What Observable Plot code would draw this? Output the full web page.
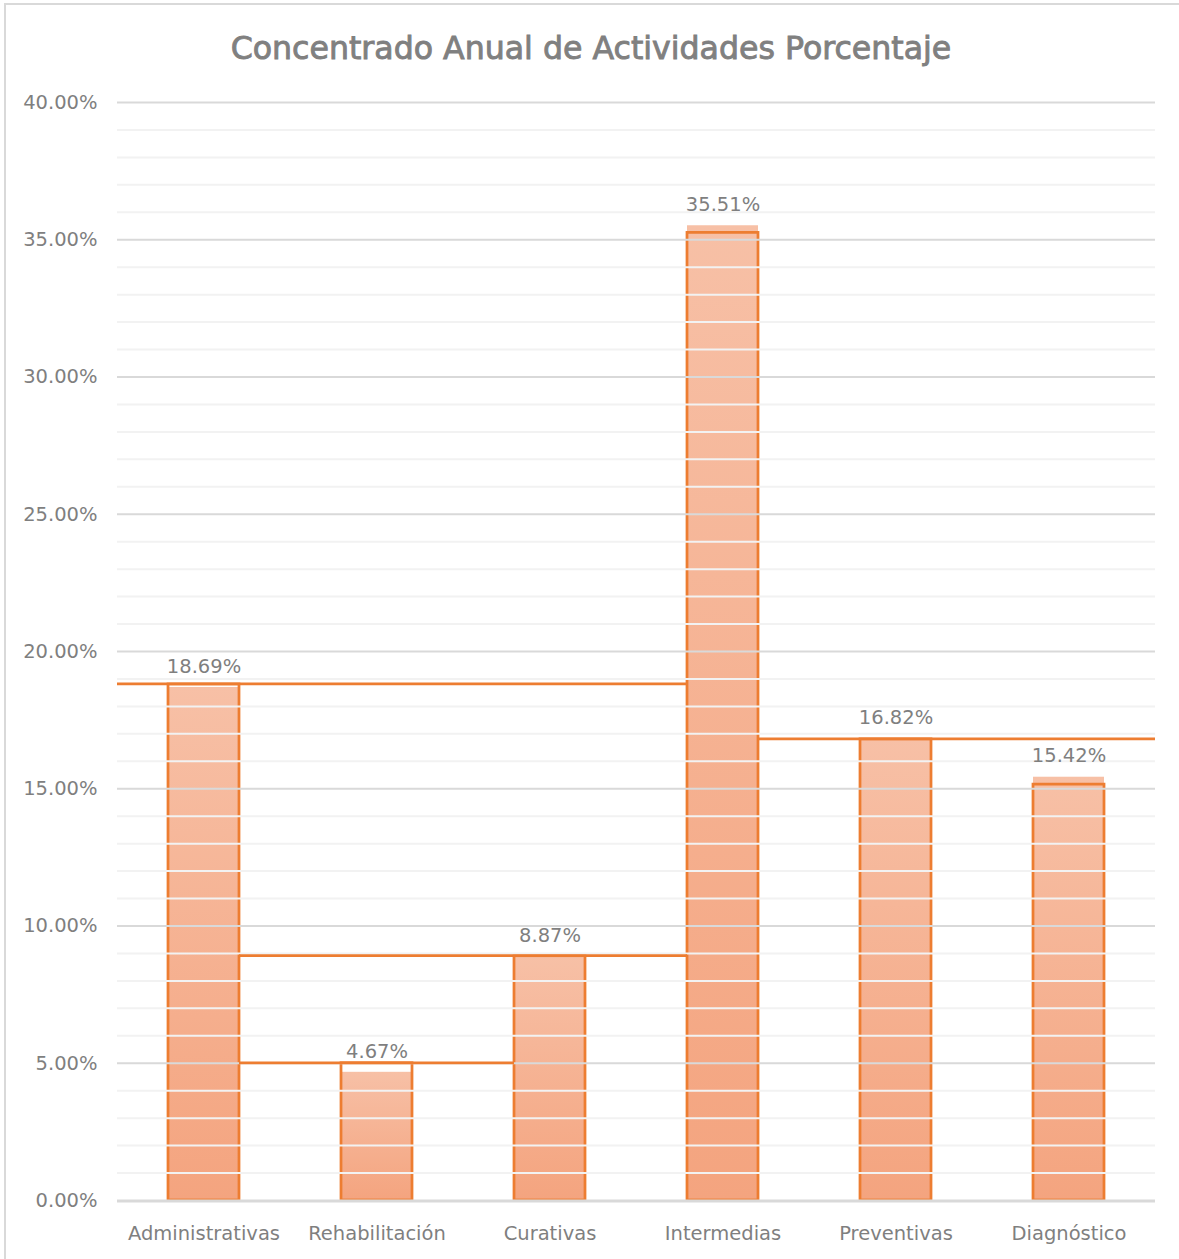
<!DOCTYPE html>
<html>
<head>
<meta charset="utf-8">
<script src="https://cdn.jsdelivr.net/npm/d3@7"></script>
<script src="https://cdn.jsdelivr.net/npm/@observablehq/plot@0.6"></script>
<style>
  html, body { margin: 0; padding: 0; background: #ffffff; }
  #page { position: relative; width: 1179px; height: 1259px; overflow: hidden; font-family: "DejaVu Sans", sans-serif; }
  #frame { position: absolute; left: 4px; top: 3px; width: 1300px; height: 1300px; box-sizing: border-box;
           border-left: 2px solid #d9d9d9; border-top: 2px solid #d9d9d9; }
  #title { position: absolute; left: 0; top: 33px; width: 1182px; text-align: center;
           font-size: 31.6px; line-height: 31.6px; color: #808080; -webkit-text-stroke: 0.9px #808080; }
  #chart { position: absolute; left: 0; top: 80px; }
</style>
</head>
<body>
<div id="page">
  <div id="frame"></div>
  <div id="title">Concentrado Anual de Actividades Porcentaje</div>
  <div id="chart"></div>
</div>
<script>
// Activity categories and their share of the annual total (%)
const categories = ["Administrativas", "Rehabilitación", "Curativas", "Intermedias", "Preventivas", "Diagnóstico"];
const percentages = [18.69, 4.67, 8.87, 35.51, 16.82, 15.42];

// Orange outline boxes drawn around each bar (top level, %)
const outlineTops = [18.8, 5.0, 8.9, 35.25, 16.8, 15.15];

// Orange level lines joining the outlines (null = edge of the plot frame)
const levelValues = [18.8, 5.0, 8.9, 16.8];
const levelFrom = [null, "Administrativas", "Administrativas", "Intermedias"];
const levelTo = ["Intermedias", "Curativas", "Intermedias", null];

// Axis ticks (%)
const yTicks = [0, 5, 10, 15, 20, 25, 30, 35, 40];
const yMinorTicks = d3.range(0, 41).filter(v => v % 5 !== 0);

const ORANGE = "#ED7D31";
const TEXT = "#7f7f7f";

const bars = categories.map((c, i) => ({category: c, value: percentages[i], outline: outlineTops[i]}));
const levels = levelValues.map((v, i) => ({value: v, from: levelFrom[i], to: levelTo[i]}));

const fmt = v => v.toFixed(2) + "%";

// Horizontal orange level lines, ending on the bar sides
function levelLines(index, scales, values, dimensions) {
  const {x, y} = scales;
  const bw = x.bandwidth();
  const left = dimensions.marginLeft;
  const right = dimensions.width - dimensions.marginRight;
  const g = d3.create("svg:g")
    .attr("stroke", ORANGE)
    .attr("stroke-width", 2.75)
    .attr("fill", "none");
  for (const d of levels) {
    g.append("line")
      .attr("x1", d.from == null ? left : x(d.from) + bw)
      .attr("x2", d.to == null ? right : x(d.to))
      .attr("y1", y(d.value))
      .attr("y2", y(d.value));
  }
  return g.node();
}

const svg = Plot.plot({
  width: 1179,
  height: 1175,
  marginTop: 22,
  marginBottom: 55,
  marginLeft: 117,
  marginRight: 24,
  style: {
    fontFamily: "'DejaVu Sans', sans-serif",
    fontSize: "19.5px",
    color: TEXT,
    background: "transparent",
    overflow: "visible"
  },
  x: {
    type: "band",
    domain: categories,
    paddingInner: 0.59,
    paddingOuter: 0.295,
    label: null,
    tickSize: 0,
    tickPadding: 26
  },
  y: {
    domain: [0, 40],
    ticks: yTicks,
    tickFormat: fmt,
    tickSize: 0,
    tickPadding: 20,
    label: null
  },
  marks: [
    // gradient-filled bars
    Plot.barY(bars, {x: "category", y: "value", fill: "url(#barFill)"}),
    // orange outline boxes
    Plot.barY(bars, {x: "category", y: "outline", fill: "none", stroke: ORANGE, strokeWidth: 2.75}),
    // gridlines over the bars
    Plot.ruleY(yMinorTicks, {stroke: "#f2f2f2", strokeWidth: 2}),
    Plot.ruleY(yTicks.filter(v => v > 0), {stroke: "#d9d9d9", strokeWidth: 2}),
    Plot.ruleY([0], {stroke: "#d9d9d9", strokeWidth: 3, dy: 0.5}),
    // level lines
    levelLines,
    // value labels
    Plot.text(bars, {x: "category", y: "value", text: d => fmt(d.value), dy: -21, fill: TEXT, fontSize: 19.5})
  ]
});

// vertical gradient used by each bar
const defs = d3.select(svg).insert("defs", ":first-child");
const grad = defs.append("linearGradient")
  .attr("id", "barFill")
  .attr("x1", 0).attr("y1", 0).attr("x2", 0).attr("y2", 1);
grad.append("stop").attr("offset", "0%").attr("stop-color", "#F7C0A6");
grad.append("stop").attr("offset", "100%").attr("stop-color", "#F4A47F");

document.getElementById("chart").appendChild(svg);
</script>
</body>
</html>
